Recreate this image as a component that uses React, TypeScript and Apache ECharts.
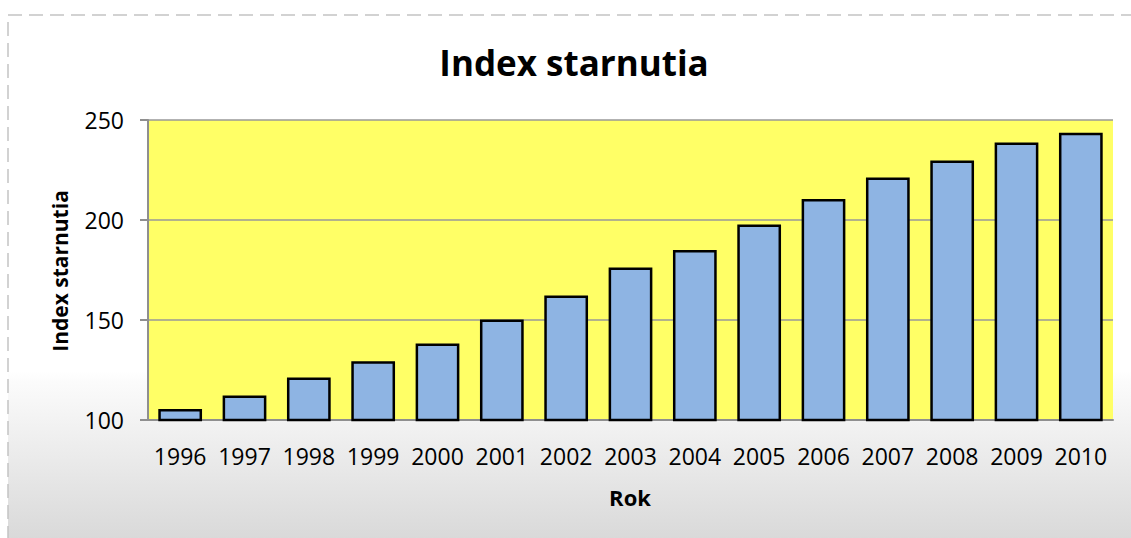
import React, { useEffect, useRef } from "react";
import * as echarts from "echarts";

const years = ["1996", "1997", "1998", "1999", "2000", "2001", "2002", "2003", "2004", "2005", "2006", "2007", "2008", "2009", "2010"];
const indexValues = [105.5, 112.3, 121.2, 129.4, 138.3, 150.3, 162.2, 176.2, 185, 197.8, 210.5, 221.2, 229.8, 238.7, 243.6];
const yTicks = { min: 100, max: 250, interval: 50 };
const titleText = "Index starnutia";
const xName = "Rok";
const yName = "Index starnutia";

const FONT = "'Open Sans', sans-serif";

export default function App() {
  const ref = useRef<HTMLDivElement>(null);
  useEffect(() => {
    if (!ref.current) return;
    const chart = echarts.init(ref.current, null, { renderer: "svg" });
    chart.setOption({
      animation: false,
      backgroundColor: "#ffffff",
      graphic: [
        {
          type: "rect",
          z: -100,
          silent: true,
          shape: { x: 8, y: 15, width: 1140, height: 540 },
          style: {
            fill: new echarts.graphic.LinearGradient(0, 0, 0, 1, [
              { offset: 0, color: "#ffffff" },
              { offset: 0.66, color: "#ffffff" },
              { offset: 0.68, color: "#fbfbfb" },
              { offset: 0.97, color: "#d9d9d9" },
              { offset: 1, color: "#d7d7d7" },
            ]),
            stroke: "#c4c4c4",
            lineWidth: 1.5,
            lineDash: [14, 7],
          },
        },
        {
          type: "text",
          x: 574,
          y: 62,
          style: {
            text: titleText,
            font: `bold 35px ${FONT}`,
            fill: "#000",
            textAlign: "center",
            textVerticalAlign: "middle",
          },
        },
        {
          type: "text",
          x: 60,
          y: 271,
          rotation: Math.PI / 2,
          style: {
            text: yName,
            font: `bold 21px ${FONT}`,
            fill: "#000",
            textAlign: "center",
            textVerticalAlign: "middle",
          },
        },
        {
          type: "text",
          x: 630,
          y: 497,
          style: {
            text: xName,
            font: `bold 22px ${FONT}`,
            fill: "#000",
            textAlign: "center",
            textVerticalAlign: "middle",
          },
        },
      ],
      grid: {
        left: 148,
        right: 18,
        top: 120,
        bottom: 118,
        show: true,
        backgroundColor: "#ffff66",
        borderWidth: 0,
      },
      xAxis: {
        type: "category",
        data: years,
        axisLine: { show: true, lineStyle: { color: "#8f8f8f", width: 2 } },
        axisTick: { show: false },
        axisLabel: { color: "#000", fontFamily: FONT, fontSize: 23, margin: 24, interval: 0, hideOverlap: false },
      },
      yAxis: {
        type: "value",
        min: yTicks.min,
        max: yTicks.max,
        interval: yTicks.interval,
        axisLine: { show: true, lineStyle: { color: "#8f8f8f", width: 2 } },
        axisTick: { show: true, length: 8, lineStyle: { color: "#8f8f8f", width: 2 } },
        axisLabel: { color: "#000", fontFamily: FONT, fontSize: 23, margin: 24 },
        splitLine: { show: true, lineStyle: { color: "#999999", width: 1.5 } },
      },
      series: [
        {
          type: "bar",
          data: indexValues,
          barCategoryGap: "32%",
          itemStyle: { color: "#8eb4e3", borderColor: "#000000", borderWidth: 2.5 },
        },
      ],
    });
    return () => chart.dispose();
  }, []);
  return (
    <div
      ref={ref}
      style={{ position: "absolute", left: 0, top: 0, width: 1131, height: 538 }}
    />
  );
}
